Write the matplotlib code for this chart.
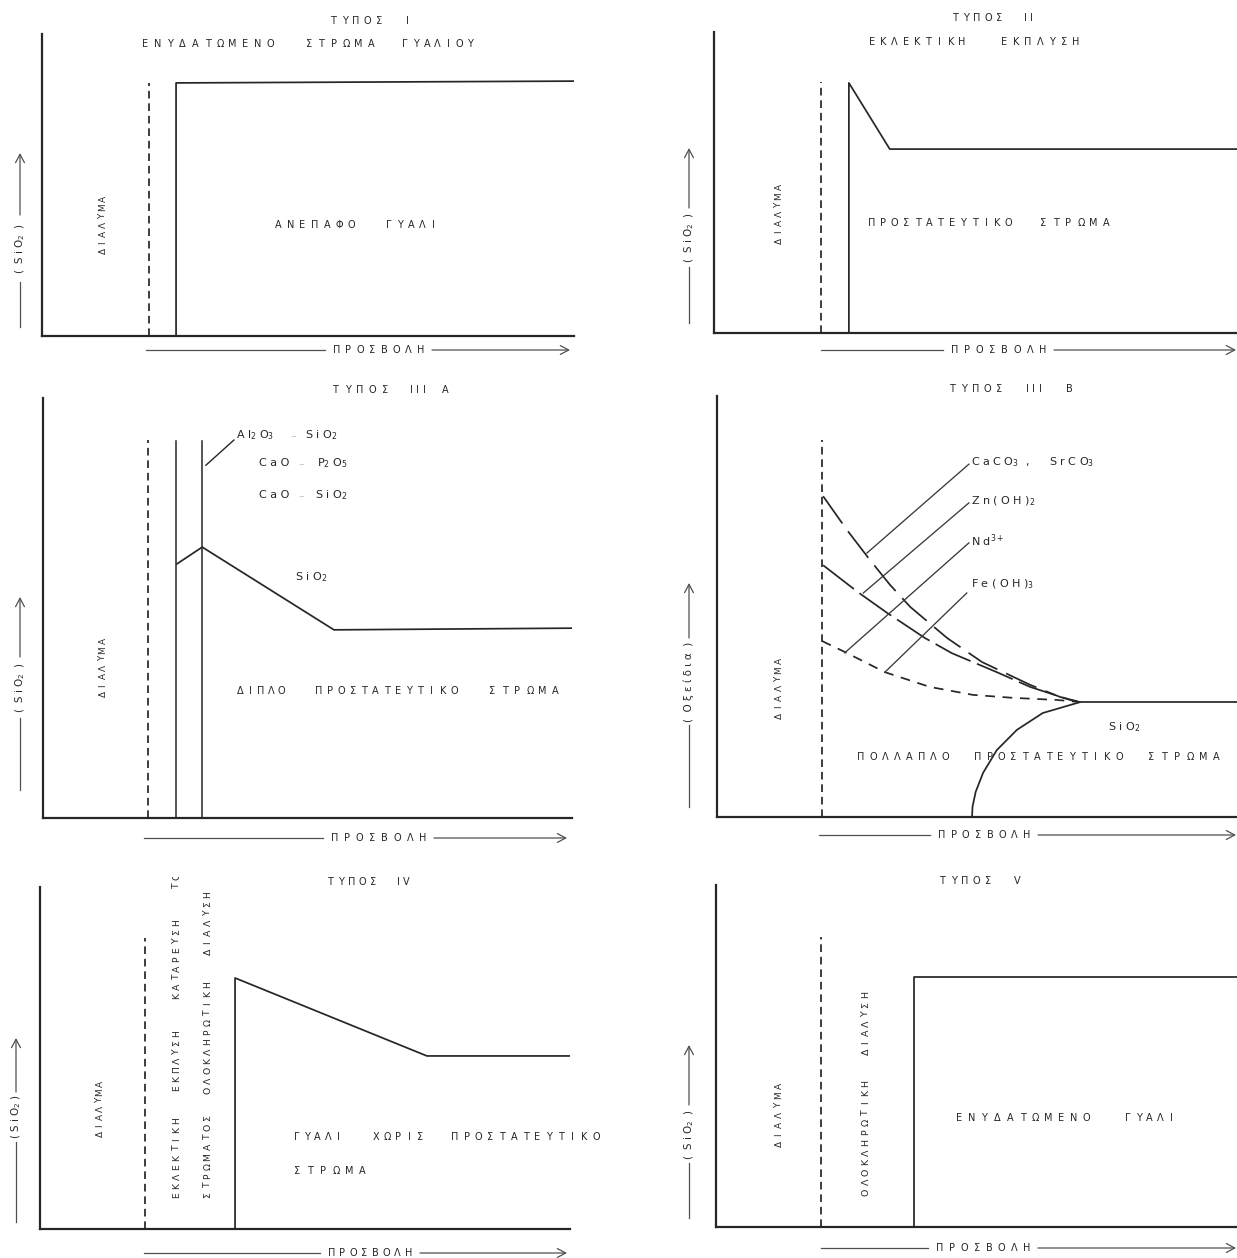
import matplotlib
matplotlib.use("Agg")
import matplotlib.pyplot as plt
from matplotlib.lines import Line2D
from matplotlib.patches import FancyArrowPatch
from matplotlib.transforms import Bbox, TransformedBbox

plt.rcParams['font.family'] = ['DejaVu Sans']
plt.rcParams['mathtext.fontset'] = 'dejavusans'
plt.rcParams['lines.scale_dashes'] = False

# ---------------- data (depth 0-100 along attack axis, concentration 0-100) -------------
# Type I
I_SOLUTION_EDGE = 20.1
I_SOLUTION_TOP = 83.8
I_PROFILE_X = [25.2, 25.2, 100.0]
I_PROFILE_Y = [0.0, 83.8, 84.4]

# Type II
II_SOLUTION_EDGE = 20.2
II_SOLUTION_TOP = 83.4
II_PROFILE_X = [25.4, 25.4, 33.1, 100.0]
II_PROFILE_Y = [0.0, 83.1, 61.1, 61.1]

# Type III A
IIIA_SOLUTION_EDGE = 19.9
IIIA_SOLUTION_TOP = 90.0
IIIA_LAYER_EDGES = [25.2, 30.1]
IIIA_LAYER_TOP = 89.8
IIIA_PROFILE_X = [25.2, 30.1, 55.0, 100.0]
IIIA_PROFILE_Y = [60.4, 64.5, 44.8, 45.2]
IIIA_LEADER_X = [30.8, 36.1]
IIIA_LEADER_Y = [84.0, 90.0]

# Type III B
IIIB_SOLUTION_EDGE = 19.9
IIIB_SOLUTION_TOP = 89.5
IIIB_TOP_X = [20.1, 24.6, 29.0, 32.8, 36.6, 43.6, 50.2, 59.3, 65.0, 68.8]
IIIB_TOP_Y = [76.2, 68.2, 61.0, 55.1, 49.9, 42.5, 36.8, 31.4, 28.5, 27.3]
IIIB_MID_X = [20.1, 26.7, 32.2, 39.4, 44.5, 53.0, 59.3, 66.9, 68.8]
IIIB_MID_Y = [59.8, 53.4, 48.5, 42.5, 38.9, 34.4, 30.9, 27.8, 27.3]
IIIB_LOW_X = [19.9, 24.2, 31.8, 40.3, 48.5, 56.1, 64.4, 68.8]
IIIB_LOW_Y = [41.8, 39.2, 34.4, 30.9, 29.0, 28.3, 27.8, 27.3]
IIIB_PLATEAU_X = [68.8, 100.0]
IIIB_PLATEAU_Y = [27.3, 27.3]
IIIB_SIO2_X = [48.3, 48.4, 49.0, 50.4, 53.0, 56.8, 61.7, 68.8]
IIIB_SIO2_Y = [0.0, 2.5, 6.0, 10.5, 15.9, 20.7, 24.7, 27.3]
IIIB_LEADER_X0 = [28.4, 27.7, 24.2, 31.8]
IIIB_LEADER_Y0 = [62.7, 53.2, 39.0, 34.4]
IIIB_LEADER_X1 = [47.7, 47.7, 47.7, 47.3]
IIIB_LEADER_Y1 = [83.8, 74.6, 65.1, 53.2]
IIIB_SPECIES = [r"C a C O$_3$  ,|S r C O$_3$", r"Z n ( O H )$_2$", r"N d$^{3+}$", r"F e ( O H )$_3$"]

# Type IV
IV_SOLUTION_EDGE = 19.8
IV_SOLUTION_TOP = 85.1
IV_PROFILE_X = [36.8, 36.8, 73.0, 100.0]
IV_PROFILE_Y = [0.0, 73.4, 50.6, 50.6]

# Type V
V_SOLUTION_EDGE = 19.8
V_SOLUTION_TOP = 84.8
V_PROFILE_X = [37.4, 37.4, 100.0]
V_PROFILE_Y = [0.0, 73.1, 73.1]

# ---------------- figure ----------------
W, H = 1237, 1258
fig = plt.figure(figsize=(W / 100, H / 100), dpi=100)
fig.patch.set_facecolor('white')

INK = '#262626'
SOFT = '#505050'
LW_AX = 1.6
LW_LINE = 1.25
DASH_V = (5.5, 3.5)
DASH_TOP = (24.0, 7.0)
DASH_MID = (28.0, 5.0)
DASH_SHORT = (7.0, 5.5)
FS = 7.0
FS_V = 6.4
CH = 8.0


def px(x, y):
    return x / W, 1 - y / H


def panel(left, right, top, bottom):
    ax = fig.add_axes([left / W, 1 - bottom / H, (right - left) / W, (bottom - top) / H])
    ax.set_xlim(0, 100)
    ax.set_ylim(0, 100)
    for s in ('top', 'right'):
        ax.spines[s].set_visible(False)
    for s in ('left', 'bottom'):
        ax.spines[s].set_linewidth(LW_AX)
        ax.spines[s].set_color(INK)
    ax.set_xticks([])
    ax.set_yticks([])
    ax.patch.set_alpha(0)
    return ax


def spaced(entries, fixed, rot=0, size=FS, color=INK, clip=None):
    for word, start, pitch in entries:
        for i, ch in enumerate(word):
            if rot == 0:
                t = fig.text(*px(start + i * pitch, fixed), ch, ha='center', va='center',
                             fontsize=size, color=color)
            else:
                t = fig.text(*px(fixed, start - i * pitch), ch, rotation=90, ha='center',
                             va='center', fontsize=size, color=color)
            if clip is not None:
                x0, y0, x1, y1 = clip
                bb = Bbox.from_extents(x0 / W, 1 - y1 / H, x1 / W, 1 - y0 / H)
                t.set_clip_box(TransformedBbox(bb, fig.transFigure))
                t.set_clip_on(True)


def label(x, y, s, size=CH, color=INK, ha='left'):
    fig.text(*px(x, y), s, ha=ha, va='center', fontsize=size, color=color)


def fline(x0, y0, x1, y1, lw=0.9, color=SOFT):
    fig.add_artist(Line2D([x0 / W, x1 / W], [1 - y0 / H, 1 - y1 / H],
                          transform=fig.transFigure, lw=lw, color=color))


def farrow(x0, y0, x1, y1, lw=0.9, color=SOFT):
    fig.add_artist(FancyArrowPatch(px(x0, y0), px(x1, y1), transform=fig.transFigure,
                                   arrowstyle='->,head_length=6,head_width=3.2',
                                   mutation_scale=1, lw=lw, color=color,
                                   shrinkA=0, shrinkB=0))


def xlabel(y, left, tl, tr, right):
    fline(left, y, tl - 7, y)
    pitch = (tr - tl - 9) / 7
    spaced([("ΠΡΟΣΒΟΛΗ", tl + 4.5, pitch)], y, size=FS)
    farrow(tr + 7, y, right, y)


def ylabel(x, bottom, tb, tt, top, text, size=7.4):
    fline(x, bottom, x, tb + 5)
    fig.text(*px(x, (tb + tt) / 2), text, rotation=90, ha='center', va='center',
             fontsize=size, color=INK)
    farrow(x, tt - 5, x, top)


def vdash(ax, x, top):
    ax.plot([x, x], [0, top], color=INK, lw=LW_LINE, dashes=DASH_V, clip_on=False)


def prof(ax, xs, ys, **kw):
    kw.setdefault('lw', LW_LINE)
    ax.plot(xs, ys, color=INK, clip_on=False, solid_joinstyle='round',
            solid_capstyle='butt', **kw)


# ---------------- Panel I ----------------
ax1 = panel(42, 574, 34, 336)
vdash(ax1, I_SOLUTION_EDGE, I_SOLUTION_TOP)
prof(ax1, I_PROFILE_X, I_PROFILE_Y)
spaced([("ΤΥΠΟΣ", 333, 11.5), ("I", 407, 6)], 21)
spaced([("ΕΝΥΔΑΤΩΜΕΝΟ", 145, 12.5), ("ΣΤΡΩΜΑ", 309, 12.4), ("ΓΥΑΛΙΟΥ", 405, 10.9)], 44)
spaced([("ΑΝΕΠΑΦΟ", 278, 12.2), ("ΓΥΑΛΙ", 389, 11)], 225)
spaced([("ΔΙΑΛΥΜΑ", 251, 8.7)], 103, rot=90, size=FS_V)
ylabel(20, 327, 277, 220, 153, r"(  S i O$_2$  )")
xlabel(350, 146, 332, 425, 570)

# ---------------- Panel II ----------------
ax2 = panel(714, 1245, 32, 333)
vdash(ax2, II_SOLUTION_EDGE, II_SOLUTION_TOP)
prof(ax2, II_PROFILE_X, II_PROFILE_Y)
spaced([("ΤΥΠΟΣ", 955, 11), ("II", 1025, 6)], 18)
spaced([("ΕΚΛΕΚΤΙΚΗ", 872, 11.25), ("ΕΚΠΛΥΣΗ", 1004, 12)], 42)
spaced([("ΠΡΟΣΤΑΤΕΥΤΙΚΟ", 872, 11.4), ("ΣΤΡΩΜΑ", 1043, 12.6)], 223)
spaced([("ΔΙΑΛΥΜΑ", 241, 9)], 779, rot=90, size=FS_V)
ylabel(689, 323, 262, 213, 148, r"(  S i O$_2$  )")
xlabel(350, 821, 950, 1047, 1236)

# ---------------- Panel III A ----------------
ax3 = panel(43, 572, 398, 818)
vdash(ax3, IIIA_SOLUTION_EDGE, IIIA_SOLUTION_TOP)
for xe in IIIA_LAYER_EDGES:
    ax3.plot([xe, xe], [0, IIIA_LAYER_TOP], color=INK, lw=1.1)
prof(ax3, IIIA_PROFILE_X, IIIA_PROFILE_Y)
ax3.plot(IIIA_LEADER_X, IIIA_LEADER_Y, color=INK, lw=1.0)
spaced([("ΤΥΠΟΣ", 335, 12.5), ("III", 411, 6.5), ("A", 445, 6)], 390)
label(236, 435, r"A l$_2$ O$_3$")
label(293, 436, "–", color='#c0c0c0', ha='center')
label(305, 435, r"S i O$_2$")
label(259, 463, r"C a O")
label(301, 464, "–", color='#c0c0c0', ha='center')
label(317, 463, r"P$_2$ O$_5$")
label(259, 495, r"C a O")
label(301, 496, "–", color='#c0c0c0', ha='center')
label(315, 495, r"S i O$_2$")
label(295, 577, r"S i O$_2$")
spaced([("ΔΙΠΛΟ", 240, 10.3), ("ΠΡΟΣΤΑΤΕΥΤΙΚΟ", 319, 11.25), ("ΣΤΡΩΜΑ", 492, 12.6)], 691)
spaced([("ΔΙΑΛΥΜΑ", 694, 8.8)], 103, rot=90, size=FS_V)
ylabel(20, 790, 713, 662, 597, r"(  S i O$_2$  )")
xlabel(838, 144, 330, 427, 567)

# ---------------- Panel III B ----------------
ax4 = panel(717, 1245, 396, 817)
vdash(ax4, IIIB_SOLUTION_EDGE, IIIB_SOLUTION_TOP)
prof(ax4, IIIB_TOP_X, IIIB_TOP_Y, dashes=DASH_TOP)
prof(ax4, IIIB_MID_X, IIIB_MID_Y, dashes=DASH_MID)
prof(ax4, IIIB_LOW_X, IIIB_LOW_Y, dashes=DASH_SHORT)
prof(ax4, IIIB_PLATEAU_X, IIIB_PLATEAU_Y)
prof(ax4, IIIB_SIO2_X, IIIB_SIO2_Y)
for x0, y0, x1, y1 in zip(IIIB_LEADER_X0, IIIB_LEADER_Y0, IIIB_LEADER_X1, IIIB_LEADER_Y1):
    ax4.plot([x0, x1], [y0, y1], color='#3a3a3a', lw=0.95)
for lab, ly in zip(IIIB_SPECIES, [462, 501, 541, 584]):
    parts = lab.split('|')
    label(971, ly, parts[0])
    if len(parts) > 1:
        label(1049, ly, parts[1])
label(1108, 727, r"S i O$_2$")
spaced([("ΤΥΠΟΣ", 952, 11.8), ("III", 1027, 6.5), ("B", 1069, 6)], 389)
spaced([("ΠΟΛΛΑΠΛΟ", 861, 12.1), ("ΠΡΟΣΤΑΤΕΥΤΙΚΟ", 978, 11.75), ("ΣΤΡΩΜΑ", 1151, 13)], 757)
spaced([("ΔΙΑΛΥΜΑ", 716, 9.2)], 779, rot=90, size=FS_V)
ylabel(689, 807, 720, 643, 583, r"(  Ο ξ ε ί δ ι α  )")
xlabel(835, 819, 937, 1031, 1236)

# ---------------- Panel IV ----------------
ax5 = panel(40, 570, 887, 1229)
vdash(ax5, IV_SOLUTION_EDGE, IV_SOLUTION_TOP)
prof(ax5, IV_PROFILE_X, IV_PROFILE_Y)
spaced([("ΤΥΠΟΣ", 330, 10.75), ("IV", 398, 8)], 882)
spaced([("ΕΚΛΕΚΤΙΚΗ", 1195, 9.3), ("ΕΚΠΛΥΣΗ", 1088, 9.0), ("ΚΑΤΑΡΕΥΣΗ", 996, 9.2),
        ("ΤΟ", 886, 9.2)], 177, rot=90, size=6.7, clip=(0, 877, 620, 1258))
spaced([("ΣΤΡΩΜΑΤΟΣ", 1195, 9.6), ("ΟΛΟΚΛΗΡΩΤΙΚΗ", 1090, 9.6), ("ΔΙΑΛΥΣΗ", 952, 9.6)],
       208, rot=90, size=6.7)
spaced([("ΔΙΑΛΥΜΑ", 1134, 8.3)], 100, rot=90, size=FS_V)
spaced([("ΓΥΑΛΙ", 297, 10.3), ("ΧΩΡΙΣ", 376, 11), ("ΠΡΟΣΤΑΤΕΥΤΙΚΟ", 455, 11.75)], 1137)
spaced([("ΣΤΡΩΜΑ", 297, 13)], 1171)
ylabel(16, 1222, 1137, 1097, 1038, r"( S i O$_2$ )")
xlabel(1253, 144, 327, 413, 567)

# ---------------- Panel V ----------------
ax6 = panel(716, 1245, 885, 1227)
vdash(ax6, V_SOLUTION_EDGE, V_SOLUTION_TOP)
prof(ax6, V_PROFILE_X, V_PROFILE_Y)
spaced([("ΤΥΠΟΣ", 942, 11.5), ("V", 1017, 6)], 881)
spaced([("ΟΛΟΚΛΗΡΩΤΙΚΗ", 1192, 9.9), ("ΔΙΑΛΥΣΗ", 1052, 9.5)], 866, rot=90, size=6.8)
spaced([("ΔΙΑΛΥΜΑ", 1144, 9.7)], 779, rot=90, size=FS_V)
spaced([("ΕΝΥΔΑΤΩΜΕΝΟ", 959, 12.7), ("ΓΥΑΛΙ", 1128, 10.75)], 1118)
ylabel(689, 1218, 1158, 1110, 1045, r"(  S i O$_2$  )")
xlabel(1248, 821, 935, 1031, 1236)

fig.savefig("out.png", dpi=100, facecolor='white')
